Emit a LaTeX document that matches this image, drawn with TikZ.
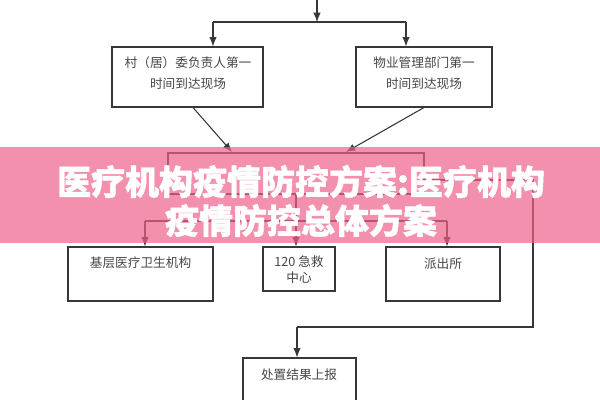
\documentclass[tikz,border=0pt]{standalone}
\usepackage{fontspec}
\newfontfamily\cjk{Noto Sans CJK SC}[BoldFeatures={FakeBold=1.3}]
\usetikzlibrary{arrows.meta,calc}
\definecolor{linegray}{RGB}{55,55,55}
\definecolor{textgray}{RGB}{70,70,70}
\definecolor{bandpink}{RGB}{238,98,139}
\tikzset{
  box/.style={draw=linegray,line width=0.8pt,rectangle,inner sep=0pt},
  boxtext/.style={font=\cjk\fontsize{9.5}{15.75}\selectfont,text=textgray,align=center,inner sep=0pt},
  arr/.style={draw=linegray,line width=0.8pt,-{Latex[length=7pt,width=5.5pt]}},
  ln/.style={draw=linegray,line width=0.8pt}
}
\begin{document}
\begin{tikzpicture}[x=0.75pt,y=-0.75pt]
	\clip(0,0)rectangle(600,400);
	\fill[white](0,0)rectangle(600,400);
	% boxes
	\node[box,minimum width=113.25pt,minimum height=45pt](cun)at(187.5,77){};
	\node[boxtext]at(188,73.5){村（居）委负责人第一\\时间到达现场};
	\node[box,minimum width=102pt,minimum height=45pt](wuye)at(424,77){};
	\node[boxtext]at(424,73.5){物业管理部门第一\\时间到达现场};
	\node[box,minimum width=192pt,minimum height=30.75pt](mid)at(296,173.5){};
	\node[box,minimum width=108.75pt,minimum height=40.5pt](jc)at(140.5,274){};
	\node[boxtext]at(140.5,263){基层医疗卫生机构};
	\node[box,minimum width=54pt,minimum height=33pt](jj)at(299,269){};
	\node[boxtext,font=\cjk\fontsize{9.5}{12}\selectfont]at(299,270){120 急救\\中心};
	\node[box,minimum width=85.5pt,minimum height=40.5pt](pcs)at(443,274){};
	\node[boxtext]at(443,264){派出所};
	\node[box,minimum width=84.75pt,minimum height=52.5pt](cz)at(299.5,393){};
	\node[boxtext]at(299,375){处置结果上报};
	% connectors
	\coordinate(top)at(317,0);
	\coordinate(split)at(317,22);
	\draw[arr](top)--(split);
	\draw[ln](213,22)--(406,22);
	\draw[arr](213,22)--(213,22|-cun.north);
	\draw[arr](406,22)--(406,22|-wuye.north);
	\draw[arr]($(cun.south)+(5.5,0)$)--(232,152);
	\draw[arr](wuye.south)--(346,152);
	\draw[ln](mid.south)--(296,221);
	\draw[ln](145,221)--(447,221);
	\draw[arr](145,221)--(145,221|-jc.north);
	\draw[arr](296,221)--(296,221|-jj.north);
	\draw[arr](447,221)--(447,221|-pcs.north);
	\draw[ln](mid.east|-0,180)--(533,180)--(533,327)--(297,327);
	\draw[arr](297,327)--(297,327|-cz.north);
	% banner
	\fill[bandpink,opacity=0.7](0,147)rectangle(600,243);
	\node[font=\cjk\bfseries\fontsize{25.5}{29.25}\selectfont,text=white,align=center,inner sep=0pt](title)at(301,201){医疗机构疫情防控方案:医疗机构\\疫情防控总体方案};
\end{tikzpicture}
\end{document}
